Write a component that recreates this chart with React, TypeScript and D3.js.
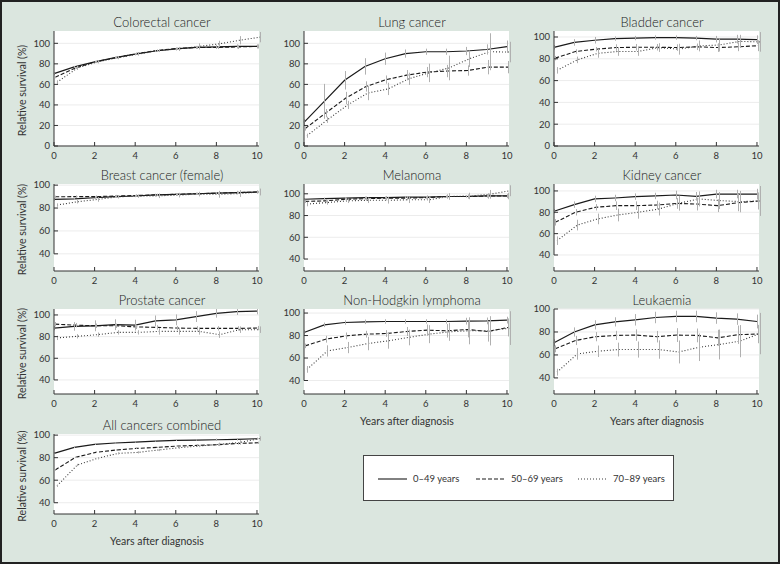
import React from 'react';
import * as d3 from 'd3';

// years after diagnosis at which conditional relative survival is shown
const years = [0, 1, 2, 3, 4, 5, 6, 7, 8, 9, 10];
const ageGroups = ['0–49 years', '50–69 years', '70–89 years'];
const xTicks = [0, 2, 4, 6, 8, 10];

// each panel: [0-49, 50-69, 70-89] relative survival (%)
const colorectal = [
  [70.5, 77, 82, 86, 89.5, 92.5, 94.5, 96, 96.5, 97, 97],
  [67, 76, 82, 86, 90, 93, 95, 96, 96, 96.5, 97],
  [62, 76, 82, 86, 89.5, 93, 94.5, 97, 99.5, 103, 106],
];
const colorectalErr = [
  [1.5, 1, 1, 1, 1, 1, 1.5, 1.5, 2, 2, 2],
  [1, 1, 1, 1, 1, 1, 1, 1.5, 1.5, 2, 2],
  [2, 2, 1.5, 1.5, 1.5, 1.5, 2, 3, 3, 4, 5],
];

const lung = [
  [23, 43.5, 64, 77.5, 85, 90, 91.8, 91.8, 92.5, 94, 96.7],
  [17, 32, 46.7, 58, 64.7, 69, 72, 73, 73.5, 76.8, 76.8],
  [10, 25.5, 40, 51.6, 55.6, 65.4, 71.2, 76, 85, 91.8, 91.5],
];
const lungErr = [
  [3, 17, 9, 8, 6, 4, 3, 3, 4, 5, 6],
  [2, 4, 6, 5, 4, 5, 5, 6, 5, 7, 6],
  [2, 3, 4, 7, 6, 6, 9, 12, 8, 18, 10],
];

const bladder = [
  [90.5, 95, 97, 98.5, 99, 99.5, 99.5, 99, 98, 98, 97.5],
  [80.6, 86.7, 88.8, 90.3, 90.6, 90.6, 90.3, 91, 90.3, 91, 92],
  [69.4, 79, 85, 86.7, 86.7, 90.3, 88.8, 91.8, 92.7, 96, 95.5],
];
const bladderErr = [
  [2, 3, 3, 2, 2, 2, 2, 2, 3, 4, 4],
  [2, 2, 2, 3, 3, 3, 3, 3, 4, 4, 5],
  [3, 3, 4, 4, 4, 4, 5, 5, 6, 6, 9],
];

const breast = [
  [87.5, 88, 89, 90, 90.5, 91.5, 92, 92.5, 93, 93.5, 94],
  [89.8, 90, 90, 90.5, 91, 91.5, 92, 92.5, 93, 93.5, 94],
  [82.6, 85.5, 87.5, 89.8, 90.4, 90.7, 91.3, 92.2, 92, 92.7, 94],
];
const breastErr = [
  [1, 1, 1, 1, 1, 1, 1, 1, 1, 1.5, 1.5],
  [1, 1, 1, 1, 1, 1, 1, 1, 1, 1, 1],
  [1.5, 1.5, 2, 1.5, 1.5, 2, 2, 2, 3, 3, 3],
];

const melanoma = [
  [95, 95.5, 96, 96.5, 96.5, 97, 97, 97.5, 97.5, 98, 98],
  [93, 93.5, 95, 95.5, 96, 96, 96.5, 97.5, 97.5, 98, 98],
  [90.5, 92, 93.5, 94, 94, 94.5, 94.5, 97.5, 98, 99.5, 102.8],
];
const melanomaErr = [
  [1, 1, 1, 1, 1, 1, 1, 1, 1, 1.5, 2],
  [1.5, 1.5, 1.5, 2, 2, 2, 2, 2, 2, 2.5, 3],
  [2, 2, 2, 2.5, 3, 3, 3, 3, 3, 4, 5],
];

const kidney = [
  [81, 87.2, 92.5, 93.4, 94.7, 95.3, 96.2, 95, 97.1, 97.1, 97],
  [70.6, 80, 84.7, 86.2, 86.2, 86.8, 88.3, 87.7, 86.2, 89, 90.6],
  [53.4, 68, 73.8, 77.5, 80, 83, 88.5, 92.5, 91, 90, 90.6],
];
const kidneyErr = [
  [2, 3, 3, 3, 3, 3, 4, 4, 4, 4, 5],
  [3, 3, 3, 4, 4, 4, 5, 6, 6, 8, 8],
  [4, 5, 5, 6, 6, 6, 7, 7, 8, 10, 14],
];

const prostate = [
  [87.9, 89.4, 90, 91, 90.6, 94.5, 95.5, 98.5, 101.5, 103, 103.6],
  [91.5, 90.6, 90, 90, 89, 88.5, 87.9, 87.6, 87.6, 87.6, 87.9],
  [78.8, 80.3, 81.8, 83.9, 83.9, 84.8, 84.8, 84.8, 81.8, 86.4, 86.4],
];
const prostateErr = [
  [2, 4, 5, 5, 5, 5, 5, 5, 4, 3, 3],
  [2, 2, 2, 2, 2, 2, 2, 2, 2, 2, 2],
  [2, 2, 2, 2, 2, 3, 3, 3, 3, 3, 3],
];

const lymphoma = [
  [82.7, 89.5, 91.6, 92.2, 92.5, 92.5, 92.5, 92.5, 92.8, 93, 93.7],
  [70.8, 76.7, 79.7, 81.2, 81.8, 83.6, 84.8, 84.2, 85.4, 83.6, 87.2],
  [49.9, 66.3, 69.3, 72.9, 75.3, 78.3, 81.2, 83.3, 84.2, 84.2, 86.6],
];
const lymphomaErr = [
  [2, 2, 2, 2, 2, 2, 2, 2, 3, 3, 3],
  [2, 3, 3, 3, 3, 4, 5, 6, 7, 9, 8],
  [3, 5, 5, 6, 7, 7, 8, 8, 12, 13, 15],
];

const leukaemia = [
  [70.6, 80, 86.2, 88.8, 90.6, 92.6, 93.5, 93.5, 92.1, 91.2, 89.1],
  [65.3, 72.6, 75.9, 77, 77.3, 75.9, 77.3, 77, 74.9, 77.6, 78.2],
  [45, 60.9, 63.2, 64.7, 64.7, 64.7, 62.6, 66.7, 69.1, 72, 78.6],
];
const leukaemiaErr = [
  [3, 4, 4, 4, 5, 5, 5, 5, 5, 5, 6],
  [3, 4, 4, 4, 5, 5, 6, 6, 7, 8, 8],
  [3, 5, 5, 6, 7, 8, 10, 12, 13, 14, 18],
];

const allCancers = [
  [83.8, 89.1, 91.8, 93, 93.8, 94.7, 95.3, 95.6, 95.9, 96.2, 96.8],
  [69.1, 80.3, 84.7, 86.8, 88.2, 89.1, 90.3, 90.9, 91.5, 92.6, 93.2],
  [55, 73.5, 79.4, 83.8, 84.7, 86.8, 88.8, 90.3, 91.8, 93.5, 97],
];
const allCancersErr = [
  [0.5, 0.5, 0.5, 0.5, 0.5, 0.5, 0.5, 0.5, 1, 1, 1],
  [0.5, 0.5, 0.5, 0.5, 0.5, 0.5, 0.5, 1, 1, 1, 1],
  [1, 1, 1, 1, 1, 1, 1, 1, 1.5, 2, 2],
];

const panels = [
  { title: 'Colorectal cancer', values: colorectal, err: colorectalErr, row: 0, col: 0, yDomain: [0, 112] },
  { title: 'Lung cancer', values: lung, err: lungErr, row: 0, col: 1, yDomain: [0, 112] },
  { title: 'Bladder cancer', values: bladder, err: bladderErr, row: 0, col: 2, yDomain: [0, 105.5] },
  { title: 'Breast cancer (female)', values: breast, err: breastErr, row: 1, col: 0, yDomain: [25, 101] },
  { title: 'Melanoma', values: melanoma, err: melanomaErr, row: 1, col: 1, yDomain: [29, 109] },
  { title: 'Kidney cancer', values: kidney, err: kidneyErr, row: 1, col: 2, yDomain: [25, 106.5] },
  { title: 'Prostate cancer', values: prostate, err: prostateErr, row: 2, col: 0, yDomain: [27, 105.5] },
  { title: 'Non-Hodgkin lymphoma', values: lymphoma, err: lymphomaErr, row: 2, col: 1, yDomain: [28, 103.6] },
  { title: 'Leukaemia', values: leukaemia, err: leukaemiaErr, row: 2, col: 2, yDomain: [26, 100] },
  { title: 'All cancers combined', values: allCancers, err: allCancersErr, row: 3, col: 0, yDomain: [30, 101] },
];

const colX = [54, 304, 554];
const rowY = [[31, 146], [184, 271], [309, 394], [434, 514]];
const plotW = 205;
const xOffsets = [0, 0.06, 0.15];
const dashes = ['none', '4,2', '1,2'];
const lineColors = ['#1a1a1a', '#1a1a1a', '#3a3a3a'];
const FONT = "Lato, 'Open Sans', sans-serif";

function Panel({ p }: { p: typeof panels[number] }) {
  const x0 = colX[p.col];
  const [top, bottom] = rowY[p.row];
  const x = d3.scaleLinear().domain([0, 10.1]).range([x0, x0 + plotW]);
  const y = d3.scaleLinear().domain(p.yDomain).range([bottom, top]);
  const yTicks = p.row === 0 ? d3.range(0, 101, 20) : [40, 60, 80, 100];
  const showXLabel = p.row === 3 || (p.row === 2 && p.col > 0);
  const axisColor = '#333';

  return (
    <g>
      <rect x={x0} y={top} width={plotW} height={bottom - top} fill="#fff" />
      {yTicks.map(t => (
        <line key={'g' + t} x1={x0} x2={x0 + plotW} y1={y(t)} y2={y(t)} stroke="#ececec" />
      ))}
      {/* series */}
      {p.values.map((vals, si) => {
        const l = d3.line<number>()
          .x((_, i) => x(years[i] + xOffsets[si]))
          .y(d => y(d));
        return (
          <path key={'l' + si} d={l(vals) || ''} fill="none" stroke={lineColors[si]}
            strokeWidth={si === 0 ? 1.2 : 1.1} strokeDasharray={dashes[si]} />
        );
      })}
      {/* error bars */}
      {p.values.map((vals, si) =>
        vals.map((v, i) => {
          const e = p.err[si][i];
          const xx = Math.round(x(years[i] + xOffsets[si])) + 0.5;
          return (
            <line key={'e' + si + '-' + i} x1={xx} x2={xx} y1={y(v - e)} y2={y(Math.min(v + e, p.yDomain[1]))}
              stroke="#b0b0b0" strokeWidth={1} />
          );
        })
      )}
      {/* axes */}
      <line x1={x0} x2={x0} y1={top} y2={y(yTicks[0])} stroke={axisColor} />
      <line x1={x0} x2={x0 + plotW} y1={bottom} y2={bottom} stroke={axisColor} />
      {yTicks.map(t => (
        <g key={'yt' + t}>
          <line x1={x0} x2={x0 + 4} y1={y(t)} y2={y(t)} stroke={axisColor} />
          <text x={x0 - 4} y={y(t)} dy="0.35em" textAnchor="end" fontSize={9.5} fill="#333">{t}</text>
        </g>
      ))}
      {xTicks.map(t => (
        <g key={'xt' + t}>
          <line x1={x(t)} x2={x(t)} y1={bottom} y2={bottom - 4} stroke={axisColor} />
          <text x={x(t)} y={bottom + 13} textAnchor="middle" fontSize={9.5} fill="#333">{t}</text>
        </g>
      ))}
      <text x={x0 + 108} y={top - 4} textAnchor="middle" fontSize={13} fill="#222" fontWeight={300}>{p.title}</text>
      {p.col === 0 && (
        <text transform={`translate(${22},${(top + bottom) / 2 + 2}) rotate(-90)`} textAnchor="middle"
          dy="0.35em" fontSize={10.5} fill="#333">Relative survival (%)</text>
      )}
      {showXLabel && (
        <text x={x0 + 103} y={bottom + 31} textAnchor="middle" fontSize={10.5} fill="#333">Years after diagnosis</text>
      )}
    </g>
  );
}

function Legend() {
  const items = [378, 476, 578];
  return (
    <g>
      <rect x={363.5} y={455.5} width={310} height={45} fill="#fff" stroke="#444" />
      {ageGroups.map((g, i) => (
        <g key={g}>
          <line x1={items[i]} x2={items[i] + 29} y1={479} y2={479} stroke={lineColors[i]}
            strokeDasharray={dashes[i]} strokeWidth={1.1} />
          <text x={items[i] + 35} y={479} dy="0.35em" fontSize={9.5} fill="#333">{g}</text>
        </g>
      ))}
    </g>
  );
}

export default function App() {
  return (
    <svg width={780} height={564} style={{ position: 'absolute', left: 0, top: 0, fontFamily: FONT }}>
      <rect x={0} y={0} width={780} height={564} fill="#dbe6df" />
      <rect x={1} y={1} width={778} height={562} fill="none" stroke="#222" strokeWidth={2} />
      {panels.map(p => <Panel key={p.title} p={p} />)}
      <Legend />
    </svg>
  );
}
